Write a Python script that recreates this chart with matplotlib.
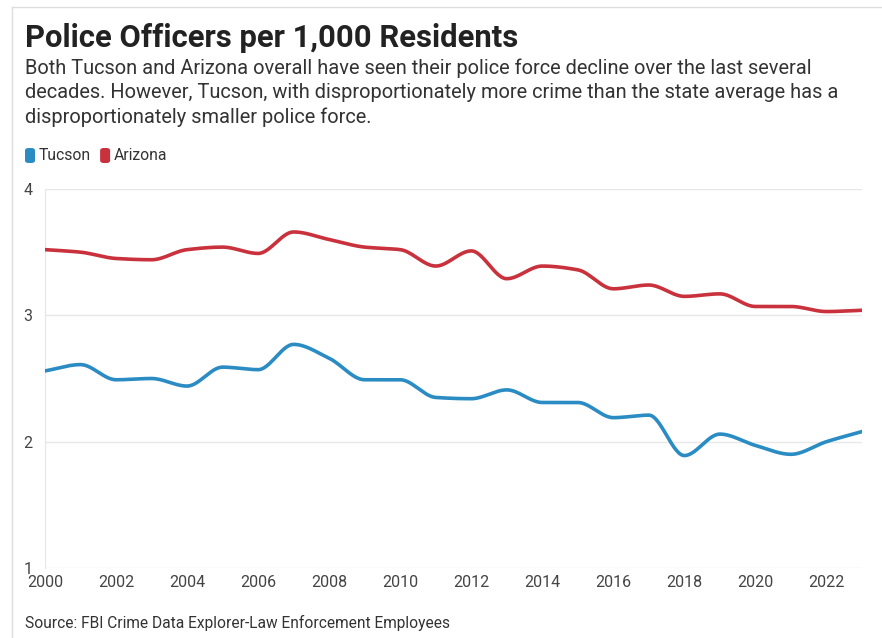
import numpy as np
import matplotlib.pyplot as plt
from matplotlib.patches import FancyBboxPatch
from matplotlib.lines import Line2D

years = list(range(2000, 2024))
tucson = [2.56, 2.61, 2.49, 2.50, 2.44, 2.59, 2.57, 2.77, 2.66, 2.49, 2.49, 2.35,
          2.34, 2.41, 2.31, 2.31, 2.19, 2.21, 1.89, 2.06, 1.97, 1.90, 2.00, 2.08]
arizona = [3.52, 3.50, 3.45, 3.44, 3.52, 3.54, 3.49, 3.66, 3.60, 3.54, 3.52, 3.39,
           3.51, 3.29, 3.39, 3.36, 3.21, 3.24, 3.15, 3.17, 3.07, 3.07, 3.03, 3.04]
series_names = ["Tucson", "Arizona"]
colors = ["#2b8cc4", "#c9323c"]

title = "Police Officers per 1,000 Residents"
subtitle = ("Both Tucson and Arizona overall have seen their police force decline over the last several\n"
            "decades. However, Tucson, with disproportionately more crime than the state average has a\n"
            "disproportionately smaller police force.")
source = "Source: FBI Crime Data Explorer-Law Enforcement Employees"


def monotone_curve(x, y, n=30):
    # monotone cubic (Fritsch-Carlson) so the smoothed line never overshoots
    x = np.asarray(x, float)
    y = np.asarray(y, float)
    h = np.diff(x)
    d = np.diff(y) / h
    m = np.zeros_like(y)
    m[0], m[-1] = d[0], d[-1]
    for i in range(1, len(y) - 1):
        if d[i - 1] * d[i] <= 0:
            m[i] = 0
        else:
            w1 = 2 * h[i] + h[i - 1]
            w2 = h[i] + 2 * h[i - 1]
            m[i] = (w1 + w2) / (w1 / d[i - 1] + w2 / d[i])
    xs, ys = [], []
    for i in range(len(x) - 1):
        t = np.linspace(0, 1, n, endpoint=False)
        h00 = 2 * t**3 - 3 * t**2 + 1
        h10 = t**3 - 2 * t**2 + t
        h01 = -2 * t**3 + 3 * t**2
        h11 = t**3 - t**2
        xs.append(x[i] + t * h[i])
        ys.append(h00 * y[i] + h10 * h[i] * m[i] + h01 * y[i + 1] + h11 * h[i] * m[i + 1])
    xs.append([x[-1]])
    ys.append([y[-1]])
    return np.concatenate(xs), np.concatenate(ys)


plt.rcParams['font.family'] = ['Roboto', 'DejaVu Sans']

W, H = 882, 638
fig = plt.figure(figsize=(W / 100, H / 100), dpi=100)
fig.patch.set_facecolor("white")

# outer frame: top and left edges only
fig.add_artist(Line2D([12 / W, 1], [1 - 7 / H, 1 - 7 / H], color="#dddddd", lw=1))
fig.add_artist(Line2D([12 / W, 12 / W], [0, 1 - 7 / H], color="#dddddd", lw=1))

fig.text(25 / W, 1 - 38 / H, title, fontsize=22.3, fontweight="bold", color="#222222", va="center")
fig.text(25 / W, 1 - 58 / H, subtitle, fontsize=14.4, color="#333333", va="top", linespacing=1.36)

# legend swatches
x0 = 25
for name, c in zip(series_names, colors):
    box = FancyBboxPatch((x0 / W, 1 - 163 / H), 10 / W, 15 / H,
                         boxstyle="round,pad=0,rounding_size=0.004",
                         transform=fig.transFigure, facecolor=c, edgecolor="none")
    fig.add_artist(box)
    t = fig.text((x0 + 14) / W, 1 - 155 / H, name, fontsize=11.3, color="#333333", va="center")
    fig.canvas.draw()
    bb = t.get_window_extent()
    x0 = bb.x1 + 9

ax = fig.add_axes([45 / W, 1 - 568 / H, (862 - 45) / W, (568 - 189) / H])
for vals, c in zip([tucson, arizona], colors):
    sx, sy = monotone_curve(years, vals)
    ax.plot(sx, sy, color=c, lw=2.6, solid_capstyle="round", zorder=3)

ax.set_xlim(2000, 2023)
ax.set_ylim(1, 4)
ax.set_yticks([1, 2, 3, 4])
ax.set_xticks(range(2000, 2023, 2))
for s in ["top", "right", "bottom"]:
    ax.spines[s].set_visible(False)
ax.spines["left"].set_color("#e6e6e6")
ax.grid(axis="y", color="#e8e8e8", lw=1)
ax.set_axisbelow(True)
ax.tick_params(axis="y", length=0, pad=9, labelsize=11.5, labelcolor="#444444")
ax.tick_params(axis="x", length=0, pad=5, labelsize=11.5, labelcolor="#444444")

fig.text(25 / W, 1 - 623 / H, source, fontsize=11.2, color="#333333", va="center")

fig.savefig("out.png", dpi=100)
